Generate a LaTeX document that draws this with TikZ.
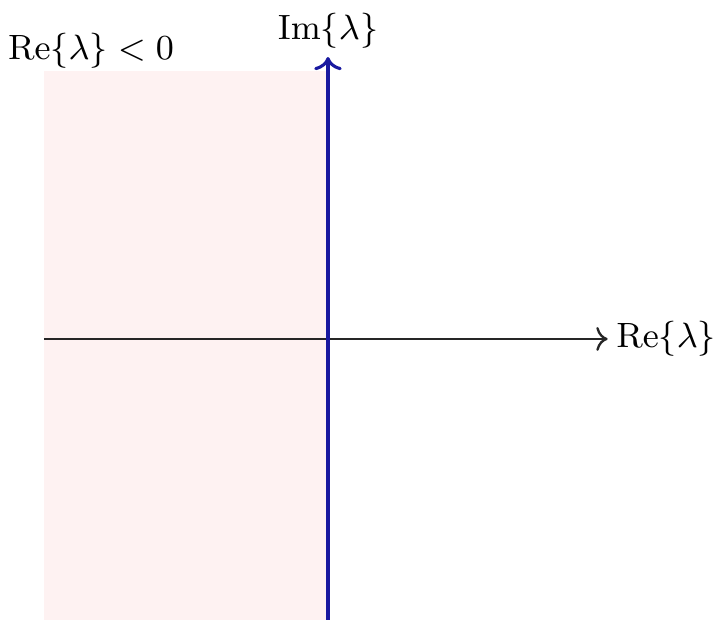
\documentclass[tikz,border=0pt]{standalone}
\usepackage{amsmath, amssymb}
\usepackage{tikz}
\usetikzlibrary{arrows.meta, calc}
\usepackage{xcolor}
\definecolor{stablepink}{RGB}{254,242,242}
\definecolor{axisblue}{RGB}{25,25,160}

\begin{document}
\begin{tikzpicture}[x=1cm, y=1cm,
    axisline/.style={->, line width=0.6pt, black!85},
    imline/.style={->, thick, axisblue},
    every node/.style={inner sep=2pt, font=\fontsize{9.5}{11}\selectfont}]
  \useasboundingbox (-2.955,-2.568) rectangle (3.577,3.054);
  % stable half-plane
  \fill[stablepink] (-2.56,-2.53) rectangle (0,2.41);
  % axes
  \coordinate (O) at (0,0);
  \coordinate (xlo) at (-2.56,0);
  \coordinate (xhi) at (2.52,0);
  \coordinate (ylo) at (0,-2.53);
  \coordinate (yhi) at (0,2.54);
  \draw[axisline] (xlo) -- (xhi);
  \draw[imline] (ylo) -- (yhi);
  % labels
  \node[anchor=west] (relabel) at (xhi) {$\mathrm{Re}\{\lambda\}$};
  \node[anchor=south] (imlabel) at (yhi) {$\mathrm{Im}\{\lambda\}$};
  \node (stablelabel) at (-2.135,2.60) {$\mathrm{Re}\{\lambda\} < 0$};
\end{tikzpicture}
\end{document}
